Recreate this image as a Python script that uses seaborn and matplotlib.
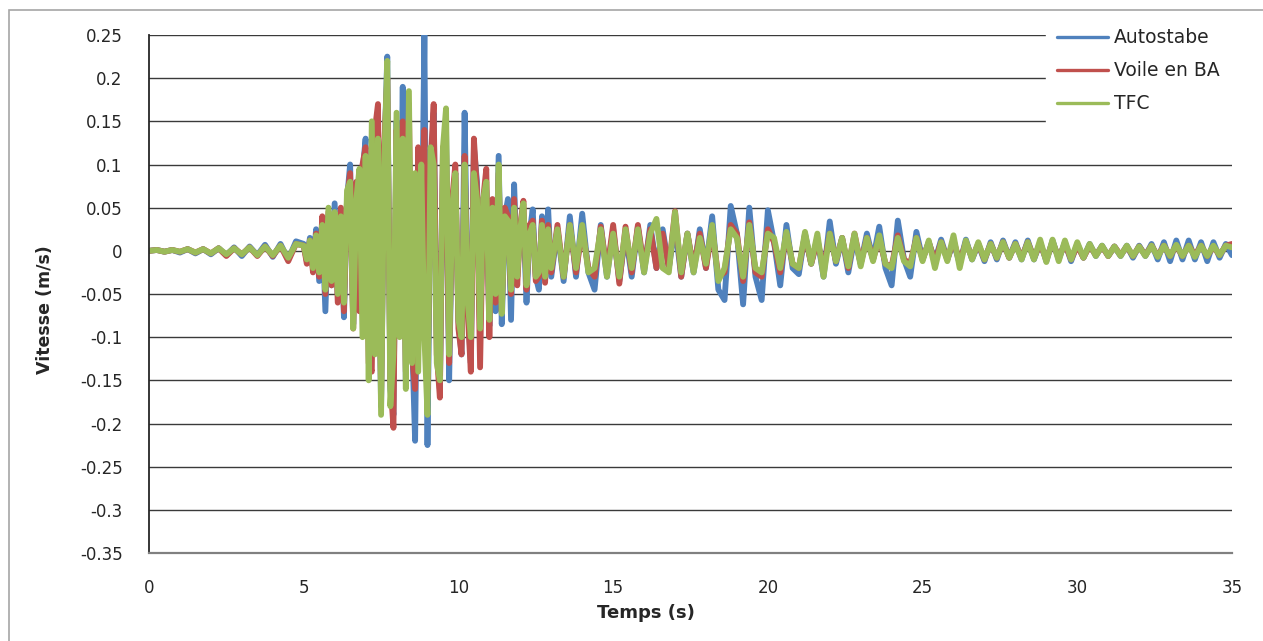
import matplotlib
matplotlib.use("Agg")
import matplotlib.pyplot as plt
import seaborn as sns
import numpy as np
import pandas as pd
from matplotlib.lines import Line2D
from matplotlib.patches import Rectangle

series_names = ["Autostabe", "Voile en BA", "TFC"]
series_colors = ["#4F81BD", "#C0504D", "#9BBB59"]

# sampling grid of the record (s)
t_a = np.linspace(0.0, 4.75, 20)
t_b = np.linspace(5.0, 12.9, 80)
t_c = np.linspace(13.0, 35.0, 111)

# velocities (m/s)
blue_a = [0.000, 0.001, -0.001, 0.001, -0.002, 0.002, -0.003, 0.002, -0.004, 0.003,
          -0.005, 0.004, -0.006, 0.005, -0.005, 0.007, -0.007, 0.008, -0.010, 0.011]
red_a = [0.000, 0.001, -0.001, 0.001, -0.001, 0.002, -0.002, 0.002, -0.003, 0.003,
         -0.006, 0.003, -0.004, 0.004, -0.006, 0.005, -0.006, 0.006, -0.012, 0.008]
green_a = [0.000, 0.001, -0.001, 0.001, -0.001, 0.002, -0.002, 0.002, -0.003, 0.003,
           -0.004, 0.003, -0.004, 0.004, -0.005, 0.005, -0.005, 0.006, -0.008, 0.008]

blue_b = [0.008, -0.012, 0.015, -0.020, 0.025, -0.035, 0.030, -0.070, 0.040, -0.040,
          0.055, -0.050, 0.030, -0.077, 0.060, 0.100, -0.085, 0.070, -0.060, 0.090,
          0.130, -0.100, -0.120, 0.120, 0.080, -0.180, 0.100, 0.225, -0.160, -0.190,
          0.150, -0.060, 0.190, -0.150, 0.120, -0.100, -0.220, 0.100, -0.050, 0.250,
          -0.225, 0.080, 0.160, -0.100, -0.160, 0.100, 0.140, -0.150, 0.050, 0.090,
          -0.080, -0.120, 0.160, -0.060, -0.130, 0.120, 0.080, -0.090, 0.060, 0.070,
          -0.087, 0.050, -0.070, 0.110, -0.085, 0.040, 0.060, -0.080, 0.077, -0.030,
          0.030, 0.040, -0.060, 0.020, 0.048, -0.030, -0.045, 0.040, -0.020, 0.048]
red_b = [0.006, -0.015, 0.012, -0.025, 0.020, -0.030, 0.040, -0.050, 0.045, -0.040,
         0.040, -0.060, 0.050, -0.070, 0.060, 0.090, -0.090, 0.080, -0.070, 0.100,
         0.120, -0.130, -0.140, 0.140, 0.170, -0.170, 0.120, 0.200, -0.150, -0.205,
         0.140, -0.080, 0.150, -0.140, 0.170, -0.120, -0.160, 0.120, -0.080, 0.140,
         -0.160, 0.100, 0.170, -0.120, -0.170, 0.120, 0.120, -0.130, 0.060, 0.100,
         -0.090, -0.120, 0.110, -0.070, -0.140, 0.130, 0.070, -0.135, 0.060, 0.095,
         -0.100, 0.060, -0.060, 0.090, -0.070, 0.050, 0.040, -0.050, 0.060, -0.040,
         0.030, 0.058, -0.045, 0.030, 0.035, -0.035, -0.030, 0.035, -0.037, 0.030]
green_b = [0.006, -0.010, 0.012, -0.020, 0.018, -0.025, 0.030, -0.045, 0.050, -0.035,
           0.045, -0.050, 0.040, -0.060, 0.070, 0.080, -0.090, 0.060, 0.095, -0.100,
           0.110, -0.150, 0.150, -0.120, 0.130, -0.190, 0.100, 0.220, -0.180, -0.120,
           0.160, -0.100, 0.130, -0.160, 0.185, -0.130, 0.090, -0.140, 0.100, -0.100,
           -0.190, 0.120, 0.100, -0.130, -0.150, 0.120, 0.165, -0.120, 0.050, 0.090,
           -0.080, -0.100, 0.100, -0.060, -0.100, 0.090, 0.060, -0.090, 0.060, 0.080,
           -0.080, 0.050, -0.050, 0.100, -0.073, 0.040, 0.035, -0.045, 0.050, -0.030,
           0.025, 0.055, -0.040, 0.020, 0.030, -0.030, -0.025, 0.030, -0.030, 0.025]

blue_c = [-0.030, 0.025, -0.035, 0.040, -0.030, 0.043, -0.025, -0.045, 0.030, -0.030,
          0.025, -0.035, 0.020, -0.030, 0.028, -0.025, 0.030, -0.020, 0.025, -0.020,
          0.030, -0.030, 0.020, -0.025, 0.025, -0.020, 0.040, -0.045, -0.057, 0.052,
          0.020, -0.062, 0.050, -0.030, -0.057, 0.047, 0.010, -0.040, 0.030, -0.020,
          -0.027, 0.020, -0.015, 0.015, -0.030, 0.034, -0.015, 0.015, -0.025, 0.015,
          -0.015, 0.020, -0.010, 0.028, -0.020, -0.040, 0.035, -0.010, -0.030, 0.022,
          -0.010, 0.010, -0.012, 0.013, -0.010, 0.010, -0.015, 0.013, -0.010, 0.008,
          -0.012, 0.010, -0.010, 0.012, -0.008, 0.010, -0.010, 0.012, -0.010, 0.010,
          -0.012, 0.012, -0.010, 0.010, -0.012, 0.008, -0.008, 0.008, -0.006, 0.006,
          -0.006, 0.005, -0.006, 0.006, -0.008, 0.006, -0.006, 0.008, -0.010, 0.010,
          -0.012, 0.012, -0.010, 0.012, -0.010, 0.010, -0.012, 0.010, -0.008, 0.008,
          -0.005]
red_c = [-0.025, 0.030, -0.030, 0.030, -0.025, 0.025, -0.020, -0.030, 0.028, -0.025,
         0.030, -0.038, 0.028, -0.025, 0.030, -0.020, 0.025, -0.020, 0.020, -0.020,
         0.046, -0.030, 0.020, -0.020, 0.020, -0.020, 0.025, -0.030, -0.025, 0.030,
         0.020, -0.035, 0.033, -0.025, -0.030, 0.025, 0.010, -0.025, 0.020, -0.015,
         -0.020, 0.018, -0.015, 0.012, -0.020, 0.020, -0.012, 0.015, -0.020, 0.020,
         -0.015, 0.015, -0.010, 0.015, -0.015, -0.018, 0.018, -0.010, -0.015, 0.015,
         -0.010, 0.010, -0.012, 0.010, -0.010, 0.012, -0.013, 0.010, -0.008, 0.008,
         -0.010, 0.008, -0.008, 0.010, -0.008, 0.008, -0.008, 0.010, -0.008, 0.008,
         -0.010, 0.010, -0.008, 0.008, -0.010, 0.006, -0.008, 0.006, -0.005, 0.005,
         -0.006, 0.005, -0.005, 0.005, -0.006, 0.005, -0.005, 0.006, -0.006, 0.006,
         -0.006, 0.006, -0.006, 0.006, -0.005, 0.006, -0.006, 0.005, -0.005, 0.006,
         0.008]
green_c = [-0.020, 0.025, -0.030, 0.030, -0.020, 0.030, -0.025, -0.020, 0.025, -0.030,
           0.020, -0.030, 0.025, -0.020, 0.025, -0.025, 0.020, 0.037, -0.020, -0.025,
           0.045, -0.025, 0.020, -0.025, 0.015, -0.015, 0.030, -0.035, -0.020, 0.025,
           0.015, -0.030, 0.030, -0.020, -0.025, 0.020, 0.015, -0.020, 0.022, -0.015,
           -0.020, 0.022, -0.015, 0.020, -0.030, 0.020, -0.012, 0.015, -0.018, 0.020,
           -0.018, 0.015, -0.012, 0.018, -0.015, -0.020, 0.015, -0.012, -0.018, 0.015,
           -0.012, 0.012, -0.020, 0.010, -0.012, 0.018, -0.020, 0.012, -0.010, 0.010,
           -0.010, 0.008, -0.008, 0.010, -0.008, 0.008, -0.010, 0.010, -0.010, 0.013,
           -0.013, 0.013, -0.012, 0.012, -0.010, 0.010, -0.008, 0.008, -0.006, 0.006,
           -0.006, 0.005, -0.006, 0.006, -0.006, 0.005, -0.006, 0.006, -0.007, 0.006,
           -0.006, 0.007, -0.006, 0.006, -0.007, 0.006, -0.006, 0.006, -0.005, 0.006,
           0.004]

x_ticks = [0, 5, 10, 15, 20, 25, 30, 35]
y_ticks = [0.25, 0.2, 0.15, 0.1, 0.05, 0, -0.05, -0.1, -0.15, -0.2, -0.25, -0.3, -0.35]

t_all = np.concatenate([t_a, t_b, t_c])
values = {
    "Autostabe": blue_a + blue_b + blue_c,
    "Voile en BA": red_a + red_b + red_c,
    "TFC": green_a + green_b + green_c,
}
frames = []
for name in series_names:
    frames.append(pd.DataFrame({"t": t_all, "v": values[name], "serie": name}))
df = pd.concat(frames, ignore_index=True)

sns.set_style("white")
plt.rcParams["font.family"] = ["DejaVu Sans"]

fig = plt.figure(figsize=(12.63, 6.41), dpi=100)
ax = fig.add_axes([149 / 1263, 1 - 553 / 641, (1232 - 149) / 1263, (553 - 35) / 641])

# excel chart frame
fig.patches.append(Rectangle((9 / 1263, -0.1), 1.2, 1 - 10 / 641 + 0.1, transform=fig.transFigure,
                             fill=False, edgecolor="#a6a6a6", linewidth=1.2))

for y in y_ticks:
    ax.axhline(y, color="#3a3a3a", linewidth=1.0, zorder=0)

sns.lineplot(data=df, x="t", y="v", hue="serie", hue_order=series_names,
             palette=series_colors, linewidth=4.2, estimator=None, sort=False,
             legend=False, ax=ax, zorder=2)

ax.set_xlim(0, 35)
ax.set_ylim(-0.35, 0.25)
ax.set_xticks(x_ticks)
ax.set_xticklabels([str(x) for x in x_ticks])
ax.set_yticks(y_ticks)
ax.set_yticklabels([f"{y:g}" for y in y_ticks])
ax.tick_params(axis="both", labelsize=12, colors="#262626", direction="out")
ax.tick_params(axis="y", length=8, width=1, color="#262626", pad=11)
ax.tick_params(axis="x", length=7, width=1, color="#808080", pad=12)

for side in ["top", "right"]:
    ax.spines[side].set_visible(False)
ax.spines["left"].set_color("#262626")
ax.spines["left"].set_linewidth(1.3)
ax.spines["bottom"].set_color("#808080")
ax.spines["bottom"].set_linewidth(1.6)

ax.set_xlabel("Temps (s)", fontsize=13, fontweight="bold")
ax.set_ylabel("Vitesse (m/s)", fontsize=12.5, fontweight="bold")
ax.xaxis.set_label_coords(0.459, -0.098)
ax.yaxis.set_label_coords(-0.088, 0.47)

handles = [Line2D([0], [0], color=c, linewidth=2.4) for c in series_colors]
leg = fig.legend(handles, series_names, loc="upper left",
                 bbox_to_anchor=(1046 / 1263, 1 - 17 / 641), fontsize=13.5,
                 frameon=True, handlelength=2.7, handletextpad=0.3,
                 labelspacing=0.75, borderpad=0.6, borderaxespad=0.0)
leg.get_frame().set_facecolor("white")
leg.get_frame().set_edgecolor("white")
leg.get_frame().set_alpha(1.0)

fig.savefig("out.png", dpi=100)
